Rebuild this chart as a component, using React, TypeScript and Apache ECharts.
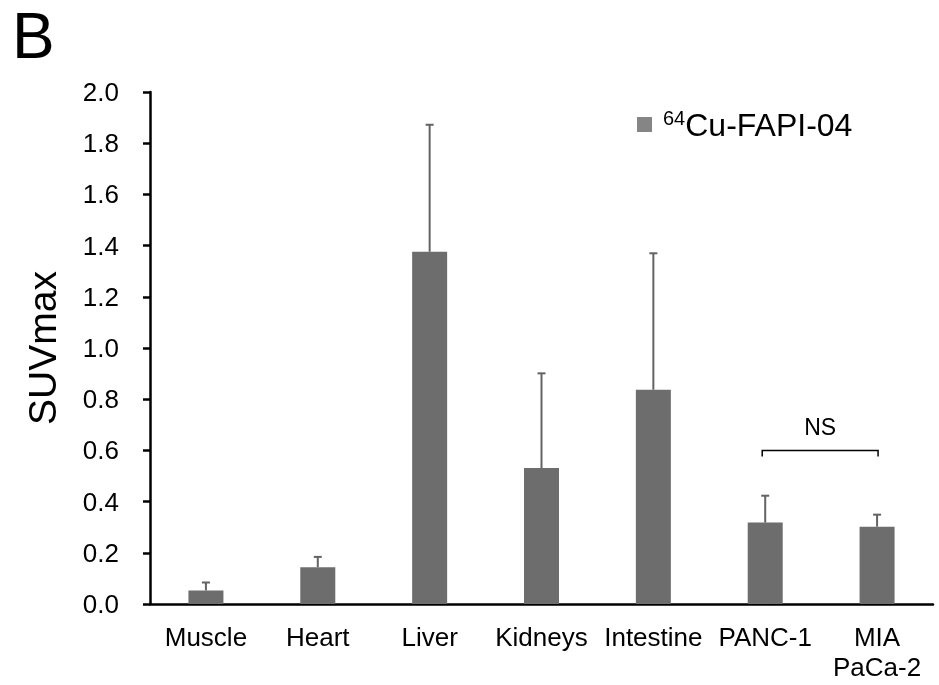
import React, { useEffect, useRef } from "react";
import * as echarts from "echarts";

const categories = ["Muscle", "Heart", "Liver", "Kidneys", "Intestine", "PANC-1", "MIA\nPaCa-2"];
const means = [0.053, 0.144, 1.376, 0.531, 0.837, 0.318, 0.302];
const errors = [0.031, 0.04, 0.496, 0.37, 0.533, 0.105, 0.047];
const yTicks = { min: 0, max: 2.0, interval: 0.2 };
const bracketPair = [5, 6];
const bracketValue = 0.6;
const seriesName = "64Cu-FAPI-04";

const FONT = "'Liberation Sans', Arial, sans-serif";
const BAR = "#6d6d6d";
const ERR = "#636363";

export default function App() {
  const ref = useRef<HTMLDivElement>(null);
  useEffect(() => {
    if (!ref.current) return;
    const chart = echarts.init(ref.current, undefined, { renderer: "svg" });
    const errData = means.map((m, i) => [i, m, m + errors[i]]);
    chart.setOption({
      animation: false,
      textStyle: { fontFamily: FONT },
      graphic: [
        {
          type: "text",
          left: 12,
          top: 4,
          style: { text: "B", fontSize: 64, fontFamily: FONT, fill: "#000" },
        },
      ],
      legend: {
        left: 637,
        top: 108,
        padding: 0,
        itemWidth: 15,
        itemHeight: 15,
        itemGap: 10,
        icon: "rect",
        data: [{ name: seriesName, itemStyle: { color: "#858585" } }],
        formatter: () => "{sup|64}{main|Cu-FAPI-04}",
        textStyle: {
          padding: [0, 0, 0, 6],
          rich: {
            sup: { fontSize: 20, fontFamily: FONT, color: "#000", verticalAlign: "top", padding: [0, 0, 13, 0] },
            main: { fontSize: 32, fontFamily: FONT, color: "#000" },
          },
        },
      },
      grid: { left: 150, right: 6, top: 92, bottom: 81, containLabel: false },
      xAxis: {
        type: "category",
        data: categories,
        axisLine: { lineStyle: { color: "#000", width: 2.5 } },
        axisTick: { show: false },
        axisLabel: {
          color: "#000",
          fontSize: 26,
          fontFamily: FONT,
          margin: 18,
          lineHeight: 30,
          interval: 0,
        },
      },
      yAxis: {
        type: "value",
        min: yTicks.min,
        max: yTicks.max,
        interval: yTicks.interval,
        name: "SUVmax",
        nameLocation: "middle",
        nameGap: 88,
        nameTextStyle: { color: "#000", fontSize: 39, fontFamily: FONT },
        splitLine: { show: false },
        axisLine: { show: true, lineStyle: { color: "#000", width: 2.5 } },
        axisTick: { show: true, inside: false, length: 7, lineStyle: { color: "#000", width: 2.5 } },
        axisLabel: {
          color: "#000",
          fontSize: 26,
          fontFamily: FONT,
          margin: 31,
          formatter: (v: number) => v.toFixed(1),
        },
      },
      series: [
        {
          name: seriesName,
          type: "bar",
          data: means,
          barWidth: 35,
          itemStyle: { color: BAR },
        },
        {
          type: "custom",
          data: errData,
          z: 3,
          renderItem: (params: any, api: any) => {
            const x = api.value(0);
            const p1 = api.coord([x, api.value(1)]);
            const p2 = api.coord([x, api.value(2)]);
            return {
              type: "group",
              children: [
                { type: "line", shape: { x1: p1[0], y1: p1[1], x2: p2[0], y2: p2[1] }, style: { stroke: ERR, lineWidth: 2 } },
                { type: "line", shape: { x1: p2[0] - 4, y1: p2[1], x2: p2[0] + 4, y2: p2[1] }, style: { stroke: ERR, lineWidth: 2 } },
              ],
            };
          },
        },
        {
          type: "custom",
          data: [[bracketPair[0], bracketPair[1], bracketValue]],
          z: 3,
          renderItem: (params: any, api: any) => {
            const a = api.coord([api.value(0), api.value(2)]);
            const b = api.coord([api.value(1), api.value(2)]);
            const x1 = a[0] - 3;
            const x2 = b[0] + 1;
            const y = a[1];
            return {
              type: "group",
              children: [
                {
                  type: "polyline",
                  shape: { points: [[x1, y + 6], [x1, y], [x2, y], [x2, y + 6]] },
                  style: { stroke: "#000", lineWidth: 1.5, fill: "none" },
                },
                {
                  type: "text",
                  x: (x1 + x2) / 2,
                  y: y - 23,
                  style: { text: "NS", fontSize: 23, fontFamily: FONT, fill: "#000", align: "center", verticalAlign: "middle" },
                },
              ],
            };
          },
        },
      ],
    });
    return () => chart.dispose();
  }, []);
  return (
    <div style={{ position: "fixed", left: 0, top: 0 }}>
      <div ref={ref} style={{ width: 939, height: 685 }} />
    </div>
  );
}
